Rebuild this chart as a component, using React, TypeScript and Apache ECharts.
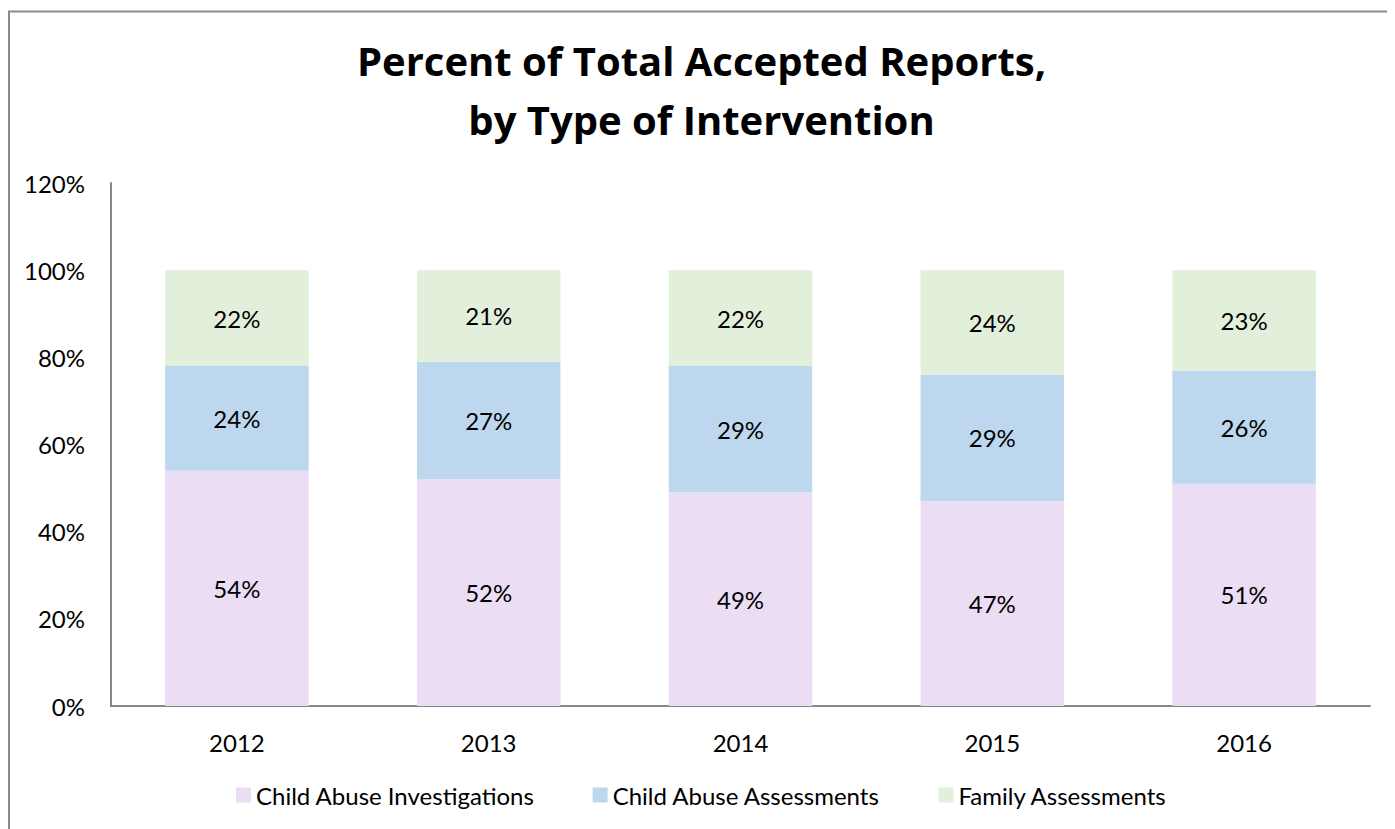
import React, { useEffect, useRef } from "react";
import * as echarts from "echarts";

const years = ["2012", "2013", "2014", "2015", "2016"];
const investigations = [54, 52, 49, 47, 51];
const abuseAssessments = [24, 27, 29, 29, 26];
const familyAssessments = [22, 21, 22, 24, 23];
const seriesNames = ["Child Abuse Investigations", "Child Abuse Assessments", "Family Assessments"];
const colors = ["#EBDDF3", "#BDD7EE", "#E2EFDA"];

const FONT = "Lato";

export default function App() {
  const ref = useRef<HTMLDivElement>(null);
  useEffect(() => {
    if (!ref.current) return;
    const chart = echarts.init(ref.current, undefined, { renderer: "svg" });
    const mk = (name: string, data: number[], color: string) => ({
      name,
      type: "bar",
      stack: "total",
      data,
      barCategoryGap: "43%",
      itemStyle: { color },
      label: {
        show: true,
        position: "inside",
        formatter: (p: any) => p.value + "%",
        color: "#000",
        fontFamily: FONT,
        fontSize: 24,
      },
    });
    chart.setOption({
      animation: false,
      backgroundColor: "#fff",
      title: {
        text: "Percent of Total Accepted Reports,\nby Type of Intervention",
        left: "center",
        top: 18,
        textStyle: {
          fontFamily: "Open Sans",
          fontWeight: "bold",
          fontSize: 40,
          lineHeight: 59,
          color: "#000",
        },
      },
      graphic: [
        {
          type: "rect",
          shape: { x: 1, y: 3.5, width: 1381, height: 900 },
          style: { fill: "none", stroke: "#8a8a8a", lineWidth: 2 },
          silent: true,
        },
      ],
      legend: {
        bottom: 17,
        left: "center",
        itemWidth: 15,
        itemHeight: 15,
        itemGap: 58,
        icon: "rect",
        textStyle: { fontFamily: FONT, fontSize: 24, color: "#000", padding: [0, 0, 0, 0] },
        data: seriesNames,
      },
      grid: { left: 103, right: 25, top: 175, bottom: 123, containLabel: false },
      xAxis: {
        type: "category",
        data: years,
        axisLine: { lineStyle: { color: "#868686", width: 2 } },
        axisTick: { show: false },
        axisLabel: { fontFamily: FONT, fontSize: 24, color: "#000", margin: 24 },
      },
      yAxis: {
        type: "value",
        min: 0,
        max: 120,
        interval: 20,
        axisLine: { show: true, lineStyle: { color: "#868686", width: 2 } },
        axisTick: { show: false },
        splitLine: { show: false },
        axisLabel: {
          fontFamily: FONT,
          fontSize: 24,
          color: "#000",
          margin: 26,
          formatter: (v: number) => v + "%",
        },
      },
      series: [
        mk(seriesNames[0], investigations, colors[0]),
        mk(seriesNames[1], abuseAssessments, colors[1]),
        mk(seriesNames[2], familyAssessments, colors[2]),
      ],
    });
    return () => chart.dispose();
  }, []);
  return <div ref={ref} style={{ width: 1387, height: 821 }} />;
}
